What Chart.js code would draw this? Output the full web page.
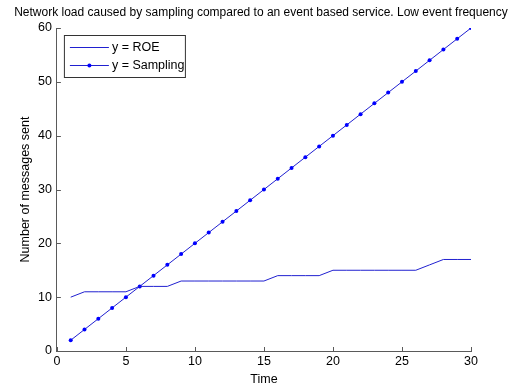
<!DOCTYPE html>
<html>
<head>
<meta charset="utf-8">
<script src="https://cdn.jsdelivr.net/npm/chart.js@4"></script>
<style>
  html, body { margin: 0; padding: 0; background: #fff; }
  #wrap { width: 515px; height: 387px; }
</style>
</head>
<body>
<div id="wrap"><canvas id="myChart" width="515" height="387"></canvas></div>
<script>
const times = [1, 2, 3, 4, 5, 6, 7, 8, 9, 10, 11, 12, 13, 14, 15, 16, 17, 18, 19, 20, 21, 22, 23, 24, 25, 26, 27, 28, 29, 30];
const roe = [10, 11, 11, 11, 11, 12, 12, 12, 13, 13, 13, 13, 13, 13, 13, 14, 14, 14, 14, 15, 15, 15, 15, 15, 15, 15, 16, 17, 17, 17];
const sampling = [2, 4, 6, 8, 10, 12, 14, 16, 18, 20, 22, 24, 26, 28, 30, 32, 34, 36, 38, 40, 42, 44, 46, 48, 50, 52, 54, 56, 58, 60];
const xTicks = [0, 5, 10, 15, 20, 25, 30];
const yTicks = [0, 10, 20, 30, 40, 50, 60];
const seriesNames = ['y = ROE', 'y = Sampling'];
const chartTitle = 'Network load caused by sampling compared to an event based service. Low event frequency';

const FONT = '"Liberation Sans", Arial, sans-serif';
const axisColor = '#5a5a5a';

// matlab style: title over the axes, ticks point inward, legend box in the corner
const matlabBits = {
   id: 'matlabBits',
   afterDraw(chart) {
      const ctx = chart.ctx;
      const xs = chart.scales.x, ys = chart.scales.y;
      const a = chart.chartArea;
      ctx.save();

      // title: matlab's one is a bit wider than liberation at 12px
      ctx.fillStyle = '#000';
      ctx.font = '12px ' + FONT;
      let w = ctx.measureText(chartTitle).width;
      let size = Math.min(14, 12 * 494 / w);
      ctx.font = size.toFixed(2) + 'px ' + FONT;
      ctx.textAlign = 'center';
      ctx.textBaseline = 'alphabetic';
      ctx.fillText(chartTitle, (a.left + a.right) / 2 - 3, 16);

      ctx.strokeStyle = axisColor;
      ctx.lineWidth = 1;
      ctx.beginPath();
      xTicks.forEach(function (v) {
         const px = Math.round(xs.getPixelForValue(v)) + 0.5;
         ctx.moveTo(px, a.bottom);
         ctx.lineTo(px, a.bottom - 4);
      });
      yTicks.forEach(function (v) {
         const py = Math.round(ys.getPixelForValue(v)) + 0.5;
         ctx.moveTo(a.left, py);
         ctx.lineTo(a.left + 4, py);
      });
      ctx.stroke();

      // legend
      const lx = a.left + 7, ly = a.top + 7, lw = 121, lh = 42;
      ctx.fillStyle = '#fff';
      ctx.fillRect(lx, ly, lw, lh);
      ctx.strokeStyle = '#333';
      ctx.strokeRect(lx + 0.5, ly + 0.5, lw, lh);
      ctx.font = '12.5px ' + FONT;
      ctx.textAlign = 'left';
      ctx.textBaseline = 'middle';
      seriesNames.forEach(function (name, i) {
         const yy = ly + 12 + i * 18;
         ctx.strokeStyle = '#2020d0';
         ctx.beginPath();
         ctx.moveTo(lx + 6, yy + 0.5);
         ctx.lineTo(lx + 45, yy + 0.5);
         ctx.stroke();
         if (i === 1) {
            ctx.fillStyle = '#0000ff';
            ctx.beginPath();
            ctx.arc(lx + 25.5, yy + 0.5, 2, 0, Math.PI * 2);
            ctx.fill();
         }
         ctx.fillStyle = '#000';
         ctx.fillText(name, lx + 48, yy + 1);
      });
      ctx.restore();
   }
};

const ctx = document.getElementById('myChart');

new Chart(ctx, {
   type: 'line',
   data: {
      datasets: [{
         label: seriesNames[0],
         data: times.map(function (t, i) { return { x: t, y: roe[i] }; }),
         borderColor: '#2020d0',
         borderWidth: 1,
         pointRadius: 0,
         tension: 0
      }, {
         label: seriesNames[1],
         data: times.map(function (t, i) { return { x: t, y: sampling[i] }; }),
         borderColor: '#2020d0',
         backgroundColor: '#0000ff',
         borderWidth: 1,
         pointRadius: 2,
         pointBorderWidth: 0,
         tension: 0
      }]
   },
   options: {
      responsive: false,
      animation: false,
      layout: { padding: { left: 18, right: 44, top: 28, bottom: 0 } },
      plugins: {
         legend: { display: false },
         tooltip: { enabled: false },
         title: { display: false }
      },
      scales: {
         x: {
            type: 'linear',
            min: 0,
            max: 30,
            afterBuildTicks: function (s) { s.ticks = xTicks.map(function (v) { return { value: v }; }); },
            grid: { display: false, drawTicks: false },
            border: { display: true, color: axisColor },
            ticks: { color: '#000', font: { family: FONT, size: 12.5 }, padding: 3, maxRotation: 0 },
            title: { display: true, text: 'Time', color: '#000', font: { family: FONT, size: 12.5 }, padding: { top: 0, bottom: 0 } }
         },
         y: {
            min: 0,
            max: 60,
            afterBuildTicks: function (s) { s.ticks = yTicks.map(function (v) { return { value: v }; }); },
            grid: { display: false, drawTicks: false },
            border: { display: true, color: axisColor },
            ticks: { color: '#000', font: { family: FONT, size: 12.5 }, padding: 5 },
            title: { display: true, text: 'Number of messages sent', color: '#000', font: { family: FONT, size: 12.5 }, padding: { top: 0, bottom: 0 } }
         }
      }
   },
   plugins: [matlabBits]
});
</script>
</body>
</html>
